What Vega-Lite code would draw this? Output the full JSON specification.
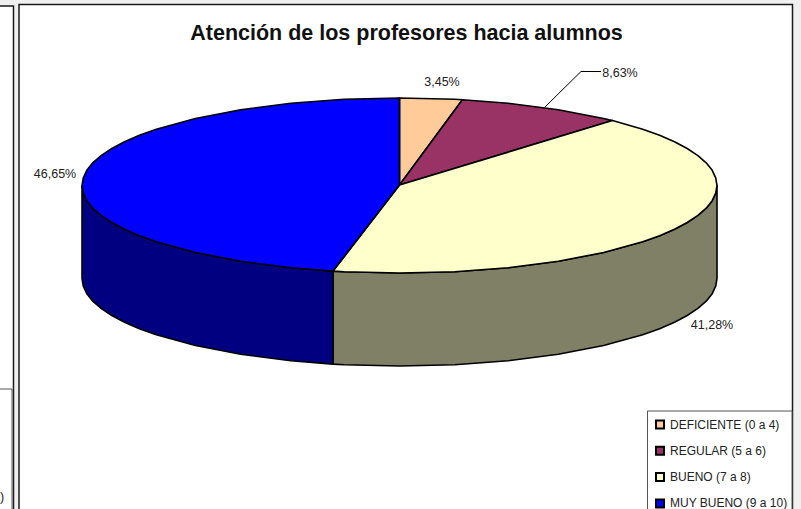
{"$schema":"https://vega.github.io/schema/vega-lite/v6.json","width":801,"height":509,"padding":0,"autosize":{"type":"none"},"background":"#f0f0f0",
"title":{"text":"Atención de los profesores hacia alumnos","font":"Liberation Sans","fontSize":21.5,"fontWeight":"bold","color":"#111111","anchor":"middle","offset":-44,"dx":6},
"config":{"view":{"stroke":null}},
"layer":[
{"data":{"values":[{"panel":"principal","x":19,"x2":792.5,"y":4.5,"y2":530},{"panel":"izquierdo","x":-10,"x2":13.5,"y":6,"y2":530}]},
"mark":{"type":"rect","fill":"white","stroke":"#1a1a1a","strokeWidth":1.5},
"encoding":{"x":{"field":"x","type":"quantitative","scale":{"domain":[0,801],"nice":false,"zero":false},"axis":null},"x2":{"field":"x2"},"y":{"field":"y","type":"quantitative","scale":{"domain":[509,0],"nice":false,"zero":false},"axis":null},"y2":{"field":"y2"}}},
{"data":{"values":[{"panel":"leyenda","x":647.5,"x2":792,"y":411,"y2":530},{"panel":"cuadro","x":-10,"x2":12,"y":389,"y2":530}]},
"mark":{"type":"rect","fill":"white","stroke":"#555555","strokeWidth":1},
"encoding":{"x":{"field":"x","type":"quantitative","axis":null},"x2":{"field":"x2"},"y":{"field":"y","type":"quantitative","axis":null},"y2":{"field":"y2"}}},
{"data":{"values":[
{"parte":"lateral bueno","i":1,"x":333,"y":271.1},{"parte":"lateral bueno","i":2,"x":344.2,"y":271.7},{"parte":"lateral bueno","i":3,"x":399.5,"y":273},{"parte":"lateral bueno","i":4,"x":454.8,"y":271.7},{"parte":"lateral bueno","i":5,"x":508.1,"y":267.7},{"parte":"lateral bueno","i":6,"x":558.3,"y":261.3},{"parte":"lateral bueno","i":7,"x":603.6,"y":252.5},{"parte":"lateral bueno","i":8,"x":642.7,"y":241.8},{"parte":"lateral bueno","i":9,"x":659.6,"y":235.7},{"parte":"lateral bueno","i":10,"x":674.5,"y":229.2},{"parte":"lateral bueno","i":11,"x":687.2,"y":222.5},{"parte":"lateral bueno","i":12,"x":697.9,"y":215.4},{"parte":"lateral bueno","i":13,"x":706.2,"y":208.2},{"parte":"lateral bueno","i":14,"x":712.2,"y":200.7},{"parte":"lateral bueno","i":15,"x":715.7,"y":193.1},{"parte":"lateral bueno","i":16,"x":717,"y":185.5},{"parte":"lateral bueno","i":17,"x":717,"y":278.5},{"parte":"lateral bueno","i":18,"x":715.7,"y":286.1},{"parte":"lateral bueno","i":19,"x":712.2,"y":293.7},{"parte":"lateral bueno","i":20,"x":706.2,"y":301.2},{"parte":"lateral bueno","i":21,"x":697.9,"y":308.4},{"parte":"lateral bueno","i":22,"x":687.2,"y":315.5},{"parte":"lateral bueno","i":23,"x":674.5,"y":322.2},{"parte":"lateral bueno","i":24,"x":659.6,"y":328.7},{"parte":"lateral bueno","i":25,"x":642.7,"y":334.8},{"parte":"lateral bueno","i":26,"x":603.6,"y":345.5},{"parte":"lateral bueno","i":27,"x":558.3,"y":354.3},{"parte":"lateral bueno","i":28,"x":508.1,"y":360.7},{"parte":"lateral bueno","i":29,"x":454.8,"y":364.7},{"parte":"lateral bueno","i":30,"x":399.5,"y":366},{"parte":"lateral bueno","i":31,"x":344.2,"y":364.7},{"parte":"lateral bueno","i":32,"x":333,"y":364.1},{"parte":"lateral bueno","i":33,"x":333,"y":271.1},
{"parte":"lateral muy bueno","i":1,"x":82,"y":185.5},{"parte":"lateral muy bueno","i":2,"x":83.3,"y":193.1},{"parte":"lateral muy bueno","i":3,"x":86.8,"y":200.7},{"parte":"lateral muy bueno","i":4,"x":92.8,"y":208.2},{"parte":"lateral muy bueno","i":5,"x":101.1,"y":215.4},{"parte":"lateral muy bueno","i":6,"x":111.8,"y":222.5},{"parte":"lateral muy bueno","i":7,"x":124.5,"y":229.2},{"parte":"lateral muy bueno","i":8,"x":139.4,"y":235.7},{"parte":"lateral muy bueno","i":9,"x":156.3,"y":241.8},{"parte":"lateral muy bueno","i":10,"x":195.4,"y":252.5},{"parte":"lateral muy bueno","i":11,"x":240.7,"y":261.3},{"parte":"lateral muy bueno","i":12,"x":290.9,"y":267.7},{"parte":"lateral muy bueno","i":13,"x":333,"y":271.1},{"parte":"lateral muy bueno","i":14,"x":333,"y":364.1},{"parte":"lateral muy bueno","i":15,"x":290.9,"y":360.7},{"parte":"lateral muy bueno","i":16,"x":240.7,"y":354.3},{"parte":"lateral muy bueno","i":17,"x":195.4,"y":345.5},{"parte":"lateral muy bueno","i":18,"x":156.3,"y":334.8},{"parte":"lateral muy bueno","i":19,"x":139.4,"y":328.7},{"parte":"lateral muy bueno","i":20,"x":124.5,"y":322.2},{"parte":"lateral muy bueno","i":21,"x":111.8,"y":315.5},{"parte":"lateral muy bueno","i":22,"x":101.1,"y":308.4},{"parte":"lateral muy bueno","i":23,"x":92.8,"y":301.2},{"parte":"lateral muy bueno","i":24,"x":86.8,"y":293.7},{"parte":"lateral muy bueno","i":25,"x":83.3,"y":286.1},{"parte":"lateral muy bueno","i":26,"x":82,"y":278.5},{"parte":"lateral muy bueno","i":27,"x":82,"y":185.5},
{"parte":"DEFICIENTE (0 a 4)","i":1,"x":399.5,"y":185},{"parte":"DEFICIENTE (0 a 4)","i":2,"x":399.5,"y":98},{"parte":"DEFICIENTE (0 a 4)","i":3,"x":454.8,"y":99.3},{"parte":"DEFICIENTE (0 a 4)","i":4,"x":462.4,"y":99.7},{"parte":"DEFICIENTE (0 a 4)","i":5,"x":399.5,"y":185},
{"parte":"REGULAR (5 a 6)","i":1,"x":399.5,"y":185},{"parte":"REGULAR (5 a 6)","i":2,"x":462.4,"y":99.7},{"parte":"REGULAR (5 a 6)","i":3,"x":508.1,"y":103.3},{"parte":"REGULAR (5 a 6)","i":4,"x":558.3,"y":109.7},{"parte":"REGULAR (5 a 6)","i":5,"x":603.6,"y":118.5},{"parte":"REGULAR (5 a 6)","i":6,"x":612.5,"y":120.6},{"parte":"REGULAR (5 a 6)","i":7,"x":399.5,"y":185},
{"parte":"BUENO (7 a 8)","i":1,"x":399.5,"y":185},{"parte":"BUENO (7 a 8)","i":2,"x":612.5,"y":120.6},{"parte":"BUENO (7 a 8)","i":3,"x":642.7,"y":129.2},{"parte":"BUENO (7 a 8)","i":4,"x":659.6,"y":135.3},{"parte":"BUENO (7 a 8)","i":5,"x":674.5,"y":141.8},{"parte":"BUENO (7 a 8)","i":6,"x":687.2,"y":148.5},{"parte":"BUENO (7 a 8)","i":7,"x":697.9,"y":155.6},{"parte":"BUENO (7 a 8)","i":8,"x":706.2,"y":162.8},{"parte":"BUENO (7 a 8)","i":9,"x":712.2,"y":170.3},{"parte":"BUENO (7 a 8)","i":10,"x":715.7,"y":177.9},{"parte":"BUENO (7 a 8)","i":11,"x":717,"y":185.5},{"parte":"BUENO (7 a 8)","i":12,"x":715.7,"y":193.1},{"parte":"BUENO (7 a 8)","i":13,"x":712.2,"y":200.7},{"parte":"BUENO (7 a 8)","i":14,"x":706.2,"y":208.2},{"parte":"BUENO (7 a 8)","i":15,"x":697.9,"y":215.4},{"parte":"BUENO (7 a 8)","i":16,"x":687.2,"y":222.5},{"parte":"BUENO (7 a 8)","i":17,"x":674.5,"y":229.2},{"parte":"BUENO (7 a 8)","i":18,"x":659.6,"y":235.7},{"parte":"BUENO (7 a 8)","i":19,"x":642.7,"y":241.8},{"parte":"BUENO (7 a 8)","i":20,"x":603.6,"y":252.5},{"parte":"BUENO (7 a 8)","i":21,"x":558.3,"y":261.3},{"parte":"BUENO (7 a 8)","i":22,"x":508.1,"y":267.7},{"parte":"BUENO (7 a 8)","i":23,"x":454.8,"y":271.7},{"parte":"BUENO (7 a 8)","i":24,"x":399.5,"y":273},{"parte":"BUENO (7 a 8)","i":25,"x":344.2,"y":271.7},{"parte":"BUENO (7 a 8)","i":26,"x":333,"y":271.1},{"parte":"BUENO (7 a 8)","i":27,"x":399.5,"y":185},
{"parte":"MUY BUENO (9 a 10)","i":1,"x":399.5,"y":185},{"parte":"MUY BUENO (9 a 10)","i":2,"x":333,"y":271.1},{"parte":"MUY BUENO (9 a 10)","i":3,"x":290.9,"y":267.7},{"parte":"MUY BUENO (9 a 10)","i":4,"x":240.7,"y":261.3},{"parte":"MUY BUENO (9 a 10)","i":5,"x":195.4,"y":252.5},{"parte":"MUY BUENO (9 a 10)","i":6,"x":156.3,"y":241.8},{"parte":"MUY BUENO (9 a 10)","i":7,"x":139.4,"y":235.7},{"parte":"MUY BUENO (9 a 10)","i":8,"x":124.5,"y":229.2},{"parte":"MUY BUENO (9 a 10)","i":9,"x":111.8,"y":222.5},{"parte":"MUY BUENO (9 a 10)","i":10,"x":101.1,"y":215.4},{"parte":"MUY BUENO (9 a 10)","i":11,"x":92.8,"y":208.2},{"parte":"MUY BUENO (9 a 10)","i":12,"x":86.8,"y":200.7},{"parte":"MUY BUENO (9 a 10)","i":13,"x":83.3,"y":193.1},{"parte":"MUY BUENO (9 a 10)","i":14,"x":82,"y":185.5},{"parte":"MUY BUENO (9 a 10)","i":15,"x":83.3,"y":177.9},{"parte":"MUY BUENO (9 a 10)","i":16,"x":86.8,"y":170.3},{"parte":"MUY BUENO (9 a 10)","i":17,"x":92.8,"y":162.8},{"parte":"MUY BUENO (9 a 10)","i":18,"x":101.1,"y":155.6},{"parte":"MUY BUENO (9 a 10)","i":19,"x":111.8,"y":148.5},{"parte":"MUY BUENO (9 a 10)","i":20,"x":124.5,"y":141.8},{"parte":"MUY BUENO (9 a 10)","i":21,"x":139.4,"y":135.3},{"parte":"MUY BUENO (9 a 10)","i":22,"x":156.3,"y":129.2},{"parte":"MUY BUENO (9 a 10)","i":23,"x":195.4,"y":118.5},{"parte":"MUY BUENO (9 a 10)","i":24,"x":240.7,"y":109.7},{"parte":"MUY BUENO (9 a 10)","i":25,"x":290.9,"y":103.3},{"parte":"MUY BUENO (9 a 10)","i":26,"x":344.2,"y":99.3},{"parte":"MUY BUENO (9 a 10)","i":27,"x":399.5,"y":98},{"parte":"MUY BUENO (9 a 10)","i":28,"x":399.5,"y":185}
]},
"mark":{"type":"line","stroke":"#000000","strokeWidth":1.6,"strokeJoin":"round"},
"encoding":{"x":{"field":"x","type":"quantitative","axis":null},"y":{"field":"y","type":"quantitative","axis":null},"order":{"field":"i","type":"quantitative"},
"fill":{"field":"parte","type":"nominal","scale":{"domain":["DEFICIENTE (0 a 4)","REGULAR (5 a 6)","BUENO (7 a 8)","MUY BUENO (9 a 10)","lateral bueno","lateral muy bueno"],"range":["#FFCC99","#993366","#FFFFCC","#0000FF","#808066","#000080"]},
"legend":{"values":["DEFICIENTE (0 a 4)","REGULAR (5 a 6)","BUENO (7 a 8)","MUY BUENO (9 a 10)"],"title":null,"orient":"none","legendX":654,"legendY":418.5,"symbolType":"square","symbolSize":64,"symbolStrokeColor":"#000000","symbolStrokeWidth":2,"labelFont":"Liberation Sans","labelFontSize":12,"labelColor":"#222222","rowPadding":10.3,"labelOffset":4}}}},
{"data":{"values":[{"x":545,"y":107,"i":1},{"x":581,"y":71.5,"i":2},{"x":601,"y":71.5,"i":3}]},
"mark":{"type":"line","stroke":"#000000","strokeWidth":1},
"encoding":{"x":{"field":"x","type":"quantitative","axis":null},"y":{"field":"y","type":"quantitative","axis":null},"order":{"field":"i","type":"quantitative"}}},
{"data":{"values":[{"etiqueta":"3,45%","x":442,"y":82},{"etiqueta":"8,63%","x":620,"y":72.5},{"etiqueta":"46,65%","x":55,"y":174},{"etiqueta":"41,28%","x":712,"y":325},{"etiqueta":")","x":2,"y":497}]},
"mark":{"type":"text","font":"Liberation Sans","fontSize":12.5,"color":"#222222","align":"center","baseline":"middle"},
"encoding":{"x":{"field":"x","type":"quantitative","axis":null},"y":{"field":"y","type":"quantitative","axis":null},"text":{"field":"etiqueta"}}}
]}
